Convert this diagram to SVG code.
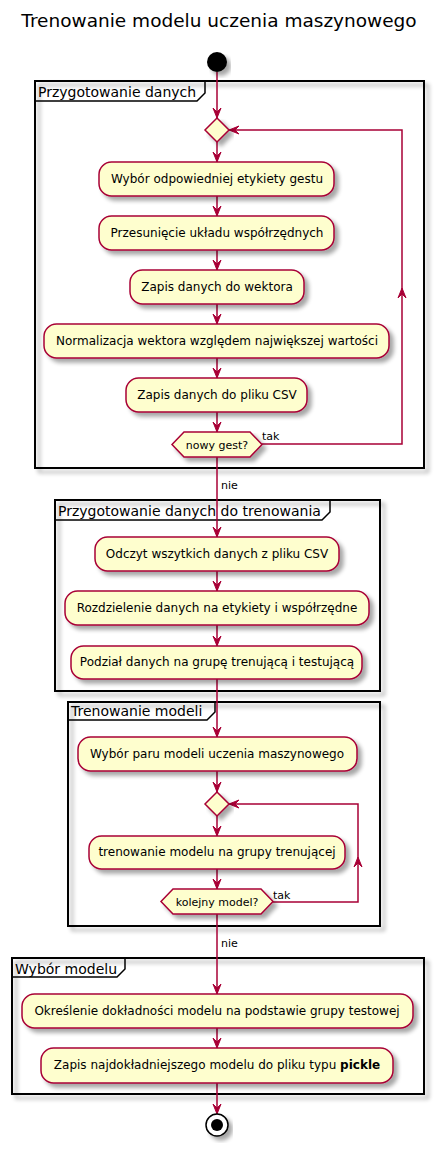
<svg xmlns="http://www.w3.org/2000/svg" width="439" height="1152" viewBox="0 0 439 1152">
<style>
text{font-family:"DejaVu Sans",sans-serif;fill:#000}
.act{fill:#FEFECE;stroke:#A80036;stroke-width:1.5;filter:url(#sh)}
.part{fill:none;stroke:#000;stroke-width:2;filter:url(#sh)}
.tab{fill:none;stroke:#000;stroke-width:1.5}
.ln{fill:none;stroke:#A80036;stroke-width:1.5}
.ah{fill:#A80036;stroke:#A80036;stroke-width:1}
.t12{font-size:12px;text-anchor:middle}
.t11{font-size:11px}
.pt{font-size:14px}
</style>
<defs>
<filter id="sh" x="-10%" y="-10%" width="130%" height="140%">
<feGaussianBlur in="SourceAlpha" stdDeviation="2"/>
<feOffset dx="4" dy="4" result="b"/>
<feComponentTransfer><feFuncA type="linear" slope="0.35"/></feComponentTransfer>
<feMerge><feMergeNode/><feMergeNode in="SourceGraphic"/></feMerge>
</filter>
</defs>
<rect width="439" height="1152" fill="#fff"/>
<text x="219" y="27" font-size="18.5" text-anchor="middle">Trenowanie modelu uczenia maszynowego</text>

<g id="partitions">
<g id="p1"><rect class="part" x="35" y="81" width="389" height="387"/><path class="tab" d="M35,101 H197 L205,93 V81"/><text class="pt" x="38" y="97">Przygotowanie danych</text></g>
<g id="p2"><rect class="part" x="55" y="500" width="325" height="191"/><path class="tab" d="M55,520 H322 L330,512 V500"/><text class="pt" x="58" y="516">Przygotowanie danych do trenowania</text></g>
<g id="p3"><rect class="part" x="68" y="702" width="312" height="224"/><path class="tab" d="M68,720 H207 L215,712 V702"/><text class="pt" x="71" y="716">Trenowanie modeli</text></g>
<g id="p4"><rect class="part" x="12" y="958" width="412" height="136"/><path class="tab" d="M12,977 H117 L125,969 V958"/><text class="pt" x="15" y="974">Wybór modelu</text></g>
</g>

<g id="connectors">
<path class="ln" d="M217,72 V118"/><path class="ah" d="M213,108 L217,118 L221,108 L217,112 Z"/>
<path class="ln" d="M217,142 V162"/><path class="ah" d="M213,152 L217,162 L221,152 L217,156 Z"/>
<path class="ln" d="M217,196 V216"/><path class="ah" d="M213,206 L217,216 L221,206 L217,210 Z"/>
<path class="ln" d="M217,250 V270"/><path class="ah" d="M213,260 L217,270 L221,260 L217,264 Z"/>
<path class="ln" d="M217,304 V324"/><path class="ah" d="M213,314 L217,324 L221,314 L217,318 Z"/>
<path class="ln" d="M217,358 V378"/><path class="ah" d="M213,368 L217,378 L221,368 L217,372 Z"/>
<path class="ln" d="M217,412 V432"/><path class="ah" d="M213,422 L217,432 L221,422 L217,426 Z"/>
<path class="ln" d="M262,444 H402 V130 H229"/><path class="ah" d="M398,298 L402,288 L406,298 L402,294 Z"/><path class="ah" d="M239,126 L229,130 L239,134 L235,130 Z"/>
<text class="t11" x="262" y="440">tak</text>
<path class="ln" d="M217,457 V537"/><path class="ah" d="M213,527 L217,537 L221,527 L217,531 Z"/>
<text class="t11" x="221" y="489">nie</text>
<path class="ln" d="M217,571 V591"/><path class="ah" d="M213,581 L217,591 L221,581 L217,585 Z"/>
<path class="ln" d="M217,625 V646"/><path class="ah" d="M213,636 L217,646 L221,636 L217,640 Z"/>
<path class="ln" d="M217,679 V737"/><path class="ah" d="M213,727 L217,737 L221,727 L217,731 Z"/>
<path class="ln" d="M217,771 V792"/><path class="ah" d="M213,782 L217,792 L221,782 L217,786 Z"/>
<path class="ln" d="M217,816 V836"/><path class="ah" d="M213,826 L217,836 L221,826 L217,830 Z"/>
<path class="ln" d="M217,869 V889"/><path class="ah" d="M213,879 L217,889 L221,879 L217,883 Z"/>
<path class="ln" d="M273,902 H358 V804 H229"/><path class="ah" d="M354,867 L358,857 L362,867 L358,863 Z"/><path class="ah" d="M239,800 L229,804 L239,808 L235,804 Z"/>
<text class="t11" x="273" y="899">tak</text>
<path class="ln" d="M217,914 V994"/><path class="ah" d="M213,984 L217,994 L221,984 L217,988 Z"/>
<text class="t11" x="221" y="947">nie</text>
<path class="ln" d="M217,1028 V1048"/><path class="ah" d="M213,1038 L217,1048 L221,1038 L217,1042 Z"/>
<path class="ln" d="M217,1083 V1114"/><path class="ah" d="M213,1104 L217,1114 L221,1104 L217,1108 Z"/>
</g>

<g id="start"><circle cx="217" cy="62" r="10" fill="#000" filter="url(#sh)"/></g>
<g id="d1"><path class="act" d="M217,118 L229,130 L217,142 L205,130 Z"/></g>
<g id="a1"><rect class="act" x="99" y="162" width="235" height="34" rx="12.5"/><text class="t12" x="217" y="183">Wybór odpowiedniej etykiety gestu</text></g>
<g id="a2"><rect class="act" x="99" y="216" width="235" height="34" rx="12.5"/><text class="t12" x="217" y="237">Przesunięcie układu współrzędnych</text></g>
<g id="a3"><rect class="act" x="130" y="270" width="174" height="34" rx="12.5"/><text class="t12" x="217" y="291">Zapis danych do wektora</text></g>
<g id="a4"><rect class="act" x="44" y="324" width="345" height="34" rx="12.5"/><text class="t12" x="217" y="345">Normalizacja wektora względem największej wartości</text></g>
<g id="a5"><rect class="act" x="126" y="378" width="181" height="34" rx="12.5"/><text class="t12" x="217" y="399">Zapis danych do pliku CSV</text></g>
<g id="h1"><path class="act" d="M172,444.5 L184,432 L250,432 L262,444.5 L250,457 L184,457 Z"/><text class="t11" x="217" y="448.5" text-anchor="middle">nowy gest?</text></g>
<g id="a6"><rect class="act" x="95" y="537" width="244" height="34" rx="12.5"/><text class="t12" x="217" y="558">Odczyt wszytkich danych z pliku CSV</text></g>
<g id="a7"><rect class="act" x="65" y="591" width="304" height="34" rx="12.5"/><text class="t12" x="217" y="612">Rozdzielenie danych na etykiety i współrzędne</text></g>
<g id="a8"><rect class="act" x="71" y="646" width="291" height="33" rx="12.5"/><text class="t12" x="217" y="666">Podział danych na grupę trenującą i testującą</text></g>
<g id="a9"><rect class="act" x="78" y="737" width="279" height="34" rx="12.5"/><text class="t12" x="217" y="758">Wybór paru modeli uczenia maszynowego</text></g>
<g id="d2"><path class="act" d="M217,792 L229,804 L217,816 L205,804 Z"/></g>
<g id="a10"><rect class="act" x="89" y="836" width="256" height="33" rx="12.5"/><text class="t12" x="217" y="856">trenowanie modelu na grupy trenującej</text></g>
<g id="h2"><path class="act" d="M161,901.5 L173,889 L261,889 L273,901.5 L261,914 L173,914 Z"/><text class="t11" x="217" y="905.5" text-anchor="middle">kolejny model?</text></g>
<g id="a11"><rect class="act" x="22" y="994" width="391" height="34" rx="12.5"/><text class="t12" x="217" y="1015">Określenie dokładności modelu na podstawie grupy testowej</text></g>
<g id="a12"><rect class="act" x="41" y="1048" width="352" height="35" rx="12.5"/><text class="t12" x="217" y="1069">Zapis najdokładniejszego modelu do pliku typu <tspan font-weight="bold">pickle</tspan></text></g>
<g id="end"><circle cx="217" cy="1125" r="11" fill="#fff" stroke="#000" stroke-width="1.5" filter="url(#sh)"/><circle cx="217" cy="1125" r="6" fill="#000"/></g>
</svg>
